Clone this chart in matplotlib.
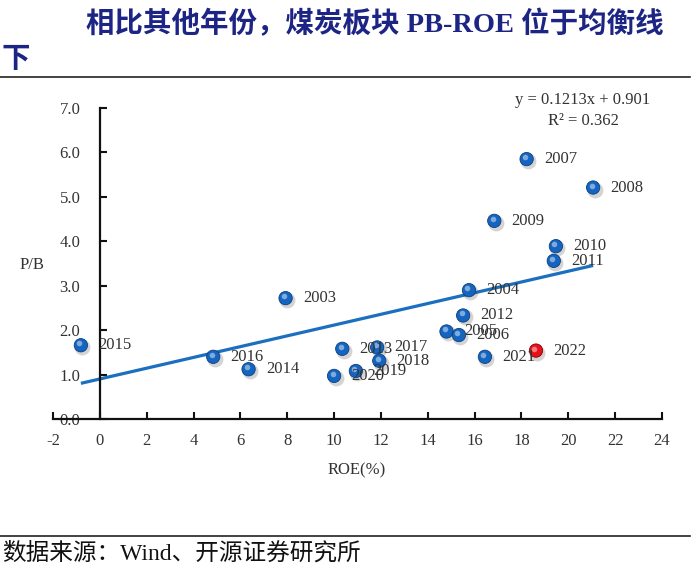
import matplotlib
matplotlib.use('Agg')
import matplotlib.pyplot as plt
import numpy as np
from matplotlib import transforms

# ---------------- data ----------------
years = ['2003', '2004', '2005', '2006', '2007', '2008', '2009', '2010', '2011', '2012',
         '2013', '2014', '2015', '2016', '2017', '2018', '2019', '2020', '2021', '2022']
roe = [7.93, 15.76, 14.80, 15.33, 18.22, 21.06, 16.84, 19.47, 19.38, 15.51,
       10.35, 6.35, -0.81, 4.84, 11.84, 11.93, 10.93, 10.00, 16.44, 18.62]
pb = [2.72, 2.90, 1.97, 1.89, 5.85, 5.21, 4.46, 3.89, 3.56, 2.33,
      1.58, 1.12, 1.66, 1.40, 1.61, 1.31, 1.08, 0.97, 1.40, 1.54]
highlight_year = '2022'
slope = 0.1213
intercept = 0.901
r2 = 0.362
x_ticks = list(range(-2, 25, 2))
y_ticks = [0, 1, 2, 3, 4, 5, 6, 7]

SERIF = ['Liberation Serif', 'Noto Sans CJK SC']
CJK = ['Liberation Serif', 'Noto Sans CJK SC']
TXT = '#333333'
BLUE = '#1565c0'
RED = '#e8101a'

fig = plt.figure(figsize=(7, 5.68), dpi=100)
ax = fig.add_axes([53 / 700, 149 / 568, 609 / 700, 311 / 568])
ax.set_xlim(-2, 24)
ax.set_ylim(0, 7)

for s in ['top', 'right']:
    ax.spines[s].set_visible(False)
ax.spines['left'].set_position(('data', 0))
for s in ['left', 'bottom']:
    ax.spines[s].set_linewidth(1.6)
    ax.spines[s].set_color('#111111')

ax.set_xticks(x_ticks)
ax.set_yticks(y_ticks)
ax.set_yticklabels([f'{v:.1f}' for v in y_ticks], fontfamily=SERIF)
ax.set_xticklabels([str(v) for v in x_ticks], fontfamily=SERIF)
ax.tick_params(axis='both', direction='in', length=5, width=1.5, labelsize=12,
               labelcolor=TXT, color='#111111')
ax.tick_params(axis='y', pad=14)
ax.tick_params(axis='x', pad=10)

# trend line
xs = np.array([min(roe), max(roe)])
ax.plot(xs, slope * xs + intercept, color='#1a6fbf', lw=2.3, zorder=2, solid_capstyle='butt')

# markers with shadow & highlight
colors = [RED if y == highlight_year else BLUE for y in years]
shadow_tr = transforms.offset_copy(ax.transData, fig=fig, x=1.5, y=-2.0, units='dots')
ax.scatter(roe, pb, s=130, color='#555555', alpha=0.25, linewidths=0,
           transform=shadow_tr, zorder=3)
ax.scatter(roe, pb, s=92, c=colors, linewidths=0.6,
           edgecolors=['#8a0000' if c == RED else '#0b3f7e' for c in colors], zorder=4)
hl_tr = transforms.offset_copy(ax.transData, fig=fig, x=-1.5, y=2.0, units='dots')
ax.scatter(roe, pb, s=16, color='white', alpha=0.45, linewidths=0,
           transform=hl_tr, zorder=5)

# labels
for x, y, t in zip(roe, pb, years):
    ax.annotate(t, (x, y), xytext=(12.5, 0), textcoords='offset points',
                ha='left', va='center', fontsize=12, fontfamily=SERIF,
                color=TXT, zorder=6)

# equation
fig.text(583 / 700, 1 - 100 / 568, f'y = {slope}x + {intercept}', ha='center', va='center',
         fontsize=12, fontfamily=SERIF, color=TXT)
fig.text(583 / 700, 1 - 121 / 568, f'R² = {r2}', ha='center', va='center',
         fontsize=12, fontfamily=SERIF, color=TXT)

# axis titles
fig.text(32 / 700, 1 - 265 / 568, 'P/B', ha='center', va='center',
         fontsize=12, fontfamily=SERIF, color=TXT)
fig.text(357 / 700, 1 - 470 / 568, 'ROE(%)', ha='center', va='center',
         fontsize=12, fontfamily=SERIF, color=TXT)

# title
TITLE_C = '#1c2484'
fig.text(86 / 700, 1 - 24 / 568, '相比其他年份，煤炭板块 PB-ROE 位于均衡线', ha='left', va='center',
         fontsize=20.5, fontweight='bold', fontfamily=CJK, color=TITLE_C)
fig.text(2 / 700, 1 - 60 / 568, '下', ha='left', va='center',
         fontsize=20.5, fontweight='bold', fontfamily=CJK, color=TITLE_C)
fig.add_artist(plt.Line2D([0, 690 / 700], [1 - 77 / 568, 1 - 77 / 568], color='#222222', lw=1.2))

# footer
fig.add_artist(plt.Line2D([0, 690 / 700], [1 - 536 / 568, 1 - 536 / 568], color='#222222', lw=1.2))
fig.text(2 / 700, 1 - 553 / 568, '数据来源：Wind、开源证券研究所', ha='left', va='center',
         fontsize=17, fontfamily=CJK, color='#111111')

fig.savefig('out.png', dpi=100)
